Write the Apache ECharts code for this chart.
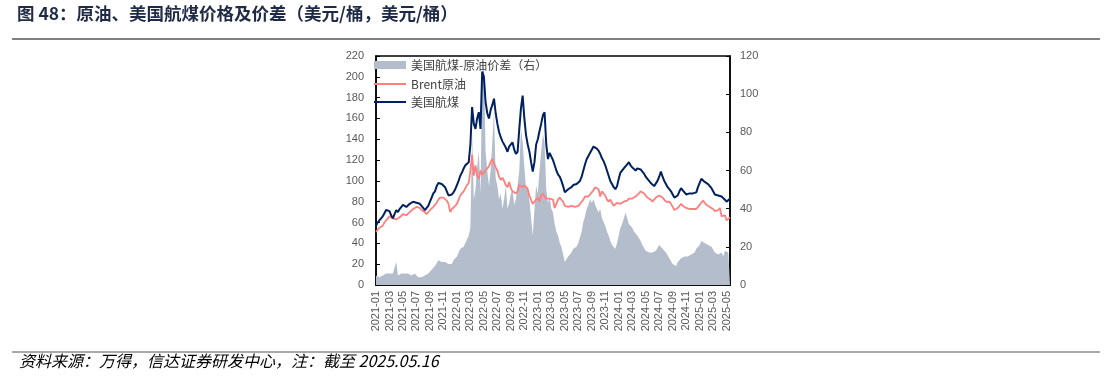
<!DOCTYPE html>
<html>
<head>
<meta charset="utf-8">
<script src="https://cdn.jsdelivr.net/npm/echarts@6/dist/echarts.min.js"></script>
<style>
  html, body { margin: 0; padding: 0; background: #fff; }
  #chart { width: 1108px; height: 377px; }
</style>
</head>
<body>
<div id="chart"></div>
<script>
// 周度日期（每月 01/08/16/23，2021-01 至 2025-05-16）
const dates = [];
const weekDays = ['01', '08', '16', '23'];
for (let y = 2021; y <= 2025; y++) {
    for (let m = 1; m <= 12; m++) {
        if (y === 2025 && m > 5) break;
        const mm = (m < 10 ? '0' : '') + m;
        weekDays.forEach(d => {
            if (y === 2025 && m === 5 && d === '23') return;
            dates.push(y + '-' + mm + '-' + d);
        });
    }
}

// 美国航煤（美元/桶，左轴）
const jetFuel = [
    57, 60, 62, 64, 66, 69, 72, 73, 71, 67, 64, 68, 72, 70, 73, 74, 77, 76, 75, 76, 78, 79, 80, 81,
    79, 80, 78, 77, 74, 72, 73, 76, 80, 84, 88, 90, 95, 98, 99, 97, 96, 94, 90, 86, 85, 87, 89, 92,
    96, 100, 105, 108, 112, 115, 116, 118, 135, 171, 155, 150, 160, 166, 150, 205, 200, 176, 165, 160, 168, 173, 179, 165,
    155, 147, 142, 138, 137, 132, 128, 133, 135, 137, 130, 126, 128, 150, 170, 182, 160, 144, 135, 128, 118, 109, 118, 135,
    140, 148, 155, 163, 166, 135, 121, 127, 128, 120, 115, 110, 106, 104, 100, 95, 89, 90, 92, 91, 94, 96, 95, 97,
    98, 100, 104, 110, 116, 121, 124, 127, 130, 133, 134, 131, 129, 126, 122, 119, 115, 110, 105, 100, 97, 94, 92, 95,
    102, 108, 110, 112, 114, 116, 118, 115, 113, 112, 110, 112, 112, 111, 109, 107, 104, 102, 101, 98, 97, 95, 94, 100,
    104, 109, 104, 100, 97, 94, 92, 90, 87, 84, 83, 86, 90, 93, 91, 89, 87, 86, 88, 87, 88, 87, 89, 94,
    98, 102, 101, 99, 98, 97, 95, 93, 90, 87, 86, 86, 87, 85, 84, 82, 80, 79, 83
];

// Brent原油（美元/桶，左轴）
const brent = [
    51, 53, 55, 55, 57, 60, 62, 64, 66, 67, 64, 63, 63, 63, 65, 65, 68, 68, 67, 67, 70, 71, 73, 74,
    75, 75, 74, 72, 72, 70, 68, 69, 72, 73, 75, 77, 79, 82, 84, 85, 84, 83, 81, 78, 70, 73, 74, 76,
    78, 82, 86, 88, 90, 93, 96, 98, 110, 125, 105, 115, 105, 102, 110, 106, 106, 110, 112, 114, 118, 121, 121, 113,
    110, 104, 101, 103, 100, 96, 94, 99, 93, 90, 91, 88, 90, 96, 95, 94, 96, 96, 92, 86, 85, 78, 80, 82,
    84, 80, 86, 88, 85, 83, 84, 83, 84, 82, 74, 75, 82, 84, 83, 80, 76, 76, 75, 76, 76, 76, 75, 74,
    76, 78, 80, 82, 85, 86, 85, 84, 89, 91, 94, 93, 92, 85, 90, 89, 86, 82, 80, 82, 79, 76, 77, 79,
    78, 78, 79, 80, 79, 81, 83, 82, 83, 82, 85, 86, 88, 90, 90, 88, 86, 84, 83, 82, 80, 82, 84, 85,
    86, 86, 84, 82, 80, 79, 80, 78, 75, 72, 72, 74, 75, 78, 76, 75, 74, 73, 73, 73, 73, 72, 73, 74,
    77, 79, 81, 79, 77, 76, 75, 74, 73, 71, 71, 72, 74, 66, 66, 67, 62, 63, 65
];

// 美国航煤-原油价差（美元/桶，右轴）
const spread = [
    5, 5, 4, 5, 5, 6, 6, 5, 6, 5, 6, 5, 12, 5, 6, 6, 5, 6, 5, 6, 6, 5, 5, 6,
    5, 4, 5, 4, 5, 5, 6, 6, 7, 8, 9, 10, 11, 13, 14, 12, 13, 12, 12, 11, 12, 11, 13, 14,
    15, 17, 19, 18, 20, 22, 24, 26, 30, 80, 45, 50, 62, 70, 48, 110, 117, 70, 60, 52, 60, 75, 91, 56,
    52, 45, 48, 40, 45, 52, 40, 43, 48, 50, 42, 45, 45, 60, 82, 75, 62, 50, 52, 45, 35, 26, 40, 52,
    48, 60, 70, 79, 75, 50, 43, 46, 40, 38, 32, 28, 26, 22, 20, 16, 12, 13, 15, 16, 17, 19, 18, 20,
    22, 25, 28, 33, 36, 40, 42, 45, 43, 45, 42, 40, 38, 40, 35, 33, 31, 28, 26, 23, 21, 20, 19, 22,
    26, 30, 32, 35, 38, 35, 32, 33, 30, 28, 27, 26, 25, 23, 21, 20, 18, 17, 17, 16, 17, 16, 18, 19,
    21, 20, 19, 18, 17, 16, 14, 13, 11, 10, 10, 12, 13, 14, 14, 15, 14, 15, 15, 16, 16, 17, 19, 20,
    21, 23, 22, 22, 22, 21, 20, 20, 19, 17, 16, 16, 16, 17, 15, 18, 19, 17, 17
];

const titleText = '图 48：原油、美国航煤价格及价差（美元/桶，美元/桶）';
const sourceText = '资料来源：万得，信达证券研发中心，注：截至 2025.05.16';

const chart = echarts.init(document.getElementById('chart'));

// 每两个月一个刻度（每月 4 个点）
const everyTwoMonths = (i) => i % 8 === 0;

const legendText = { color: '#404040', fontSize: 12, fontFamily: '"Noto Sans CJK SC", sans-serif' };

const option = {
    animation: false,
    textStyle: { fontFamily: 'Liberation Sans, "Noto Sans CJK SC", sans-serif' },
    grid: {
        left: 376, right: 378, top: 56, bottom: 92,
        show: true, borderColor: '#000', borderWidth: 1.5
    },
    legend: [
        {
            left: 374, top: 59, padding: 0,
            itemWidth: 32, itemHeight: 8,
            textStyle: legendText,
            data: [{ name: '美国航煤-原油价差（右）', icon: 'rect' }]
        },
        {
            left: 374, top: 78, padding: 0,
            itemWidth: 32, itemHeight: 2,
            textStyle: legendText,
            data: [{ name: 'Brent原油', icon: 'rect' }]
        },
        {
            left: 374, top: 96, padding: 0,
            itemWidth: 32, itemHeight: 2,
            textStyle: legendText,
            data: [{ name: '美国航煤', icon: 'rect' }]
        }
    ],
    xAxis: {
        type: 'category',
        data: dates,
        boundaryGap: false,
        axisLine: { lineStyle: { color: '#000', width: 1.5 } },
        axisTick: { inside: true, length: 4, interval: everyTwoMonths, lineStyle: { color: '#000' } },
        axisLabel: {
            rotate: 90, interval: everyTwoMonths, color: '#595959', fontSize: 11, margin: 6,
            formatter: (v) => v.slice(0, 7)
        },
        splitLine: { show: false }
    },
    yAxis: [
        {
            type: 'value', min: 0, max: 220, interval: 20,
            axisLine: { show: true, lineStyle: { color: '#000', width: 1.5 } },
            axisTick: { show: true, inside: true, length: 4, lineStyle: { color: '#000' } },
            axisLabel: { color: '#595959', fontSize: 11, margin: 12 },
            splitLine: { show: false }
        },
        {
            type: 'value', min: 0, max: 120, interval: 20,
            axisLine: { show: true, lineStyle: { color: '#000', width: 1.5 } },
            axisTick: { show: true, inside: true, length: 4, lineStyle: { color: '#000' } },
            axisLabel: { color: '#595959', fontSize: 11, margin: 10 },
            splitLine: { show: false }
        }
    ],
    series: [
        {
            name: '美国航煤-原油价差（右）',
            type: 'line',
            yAxisIndex: 1,
            data: spread,
            symbol: 'none',
            itemStyle: { color: '#b3bdcc' },
            lineStyle: { width: 0, color: '#b3bdcc' },
            areaStyle: { color: '#b3bdcc', opacity: 1 },
            z: 1
        },
        {
            name: 'Brent原油',
            type: 'line',
            data: brent,
            symbol: 'none',
            itemStyle: { color: '#ff7f7f' },
            lineStyle: { width: 1.8, color: '#ff7f7f' },
            z: 2
        },
        {
            name: '美国航煤',
            type: 'line',
            data: jetFuel,
            symbol: 'none',
            itemStyle: { color: '#002060' },
            lineStyle: { width: 2, color: '#002060' },
            z: 3
        }
    ],
    graphic: [
        {
            type: 'text', left: 17, top: 5,
            style: { text: titleText, fill: '#1f2a44', font: 'bold 17.5px "Noto Sans CJK SC", sans-serif' }
        },
        {
            type: 'line', shape: { x1: 12, y1: 39, x2: 1100, y2: 39 },
            style: { stroke: '#000', lineWidth: 1 }
        },
        {
            type: 'line', shape: { x1: 12, y1: 352, x2: 1100, y2: 352 },
            style: { stroke: '#555', lineWidth: 1 }
        },
        {
            type: 'text', left: 19, top: 353,
            style: { text: sourceText, fill: '#000', font: 'italic 16px "Noto Sans CJK SC", sans-serif' }
        }
    ]
};

chart.setOption(option);
</script>
</body>
</html>
